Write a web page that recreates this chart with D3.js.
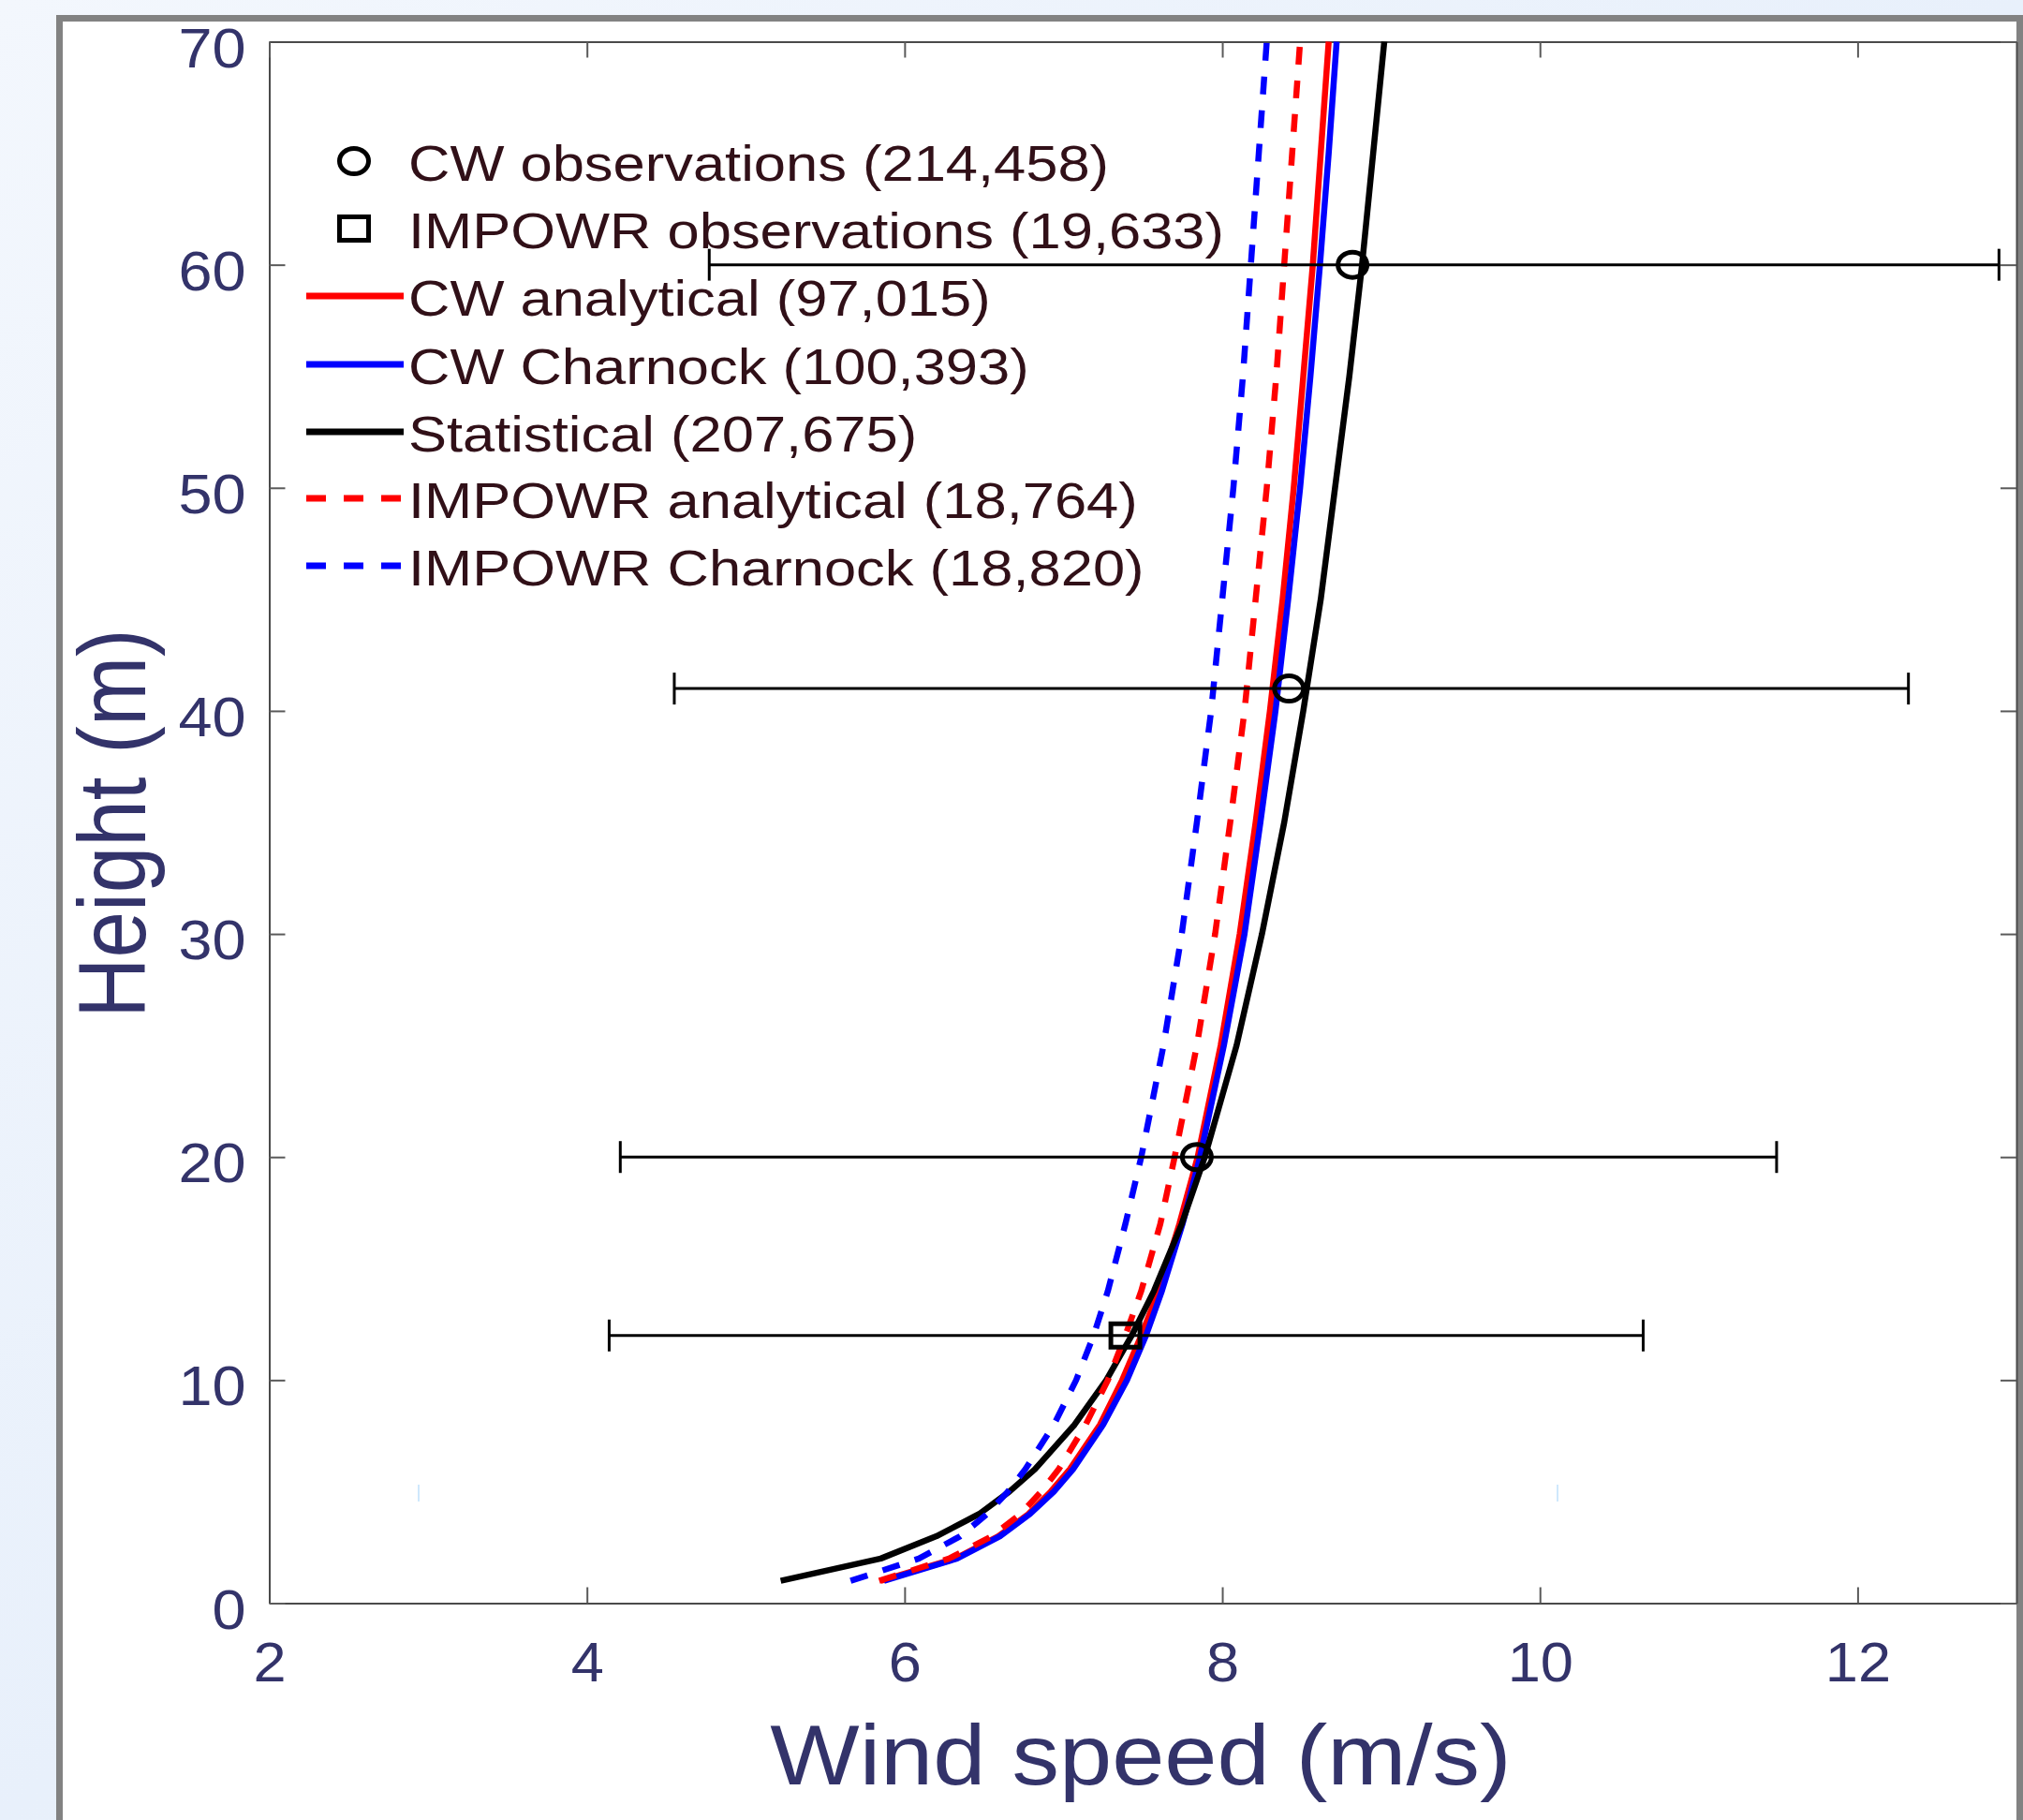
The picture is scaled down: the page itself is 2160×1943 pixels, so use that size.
<!DOCTYPE html>
<html>
<head>
<meta charset="utf-8">
<script src="https://cdn.jsdelivr.net/npm/d3@7/dist/d3.min.js"></script>
<style>
  html, body { margin: 0; padding: 0; background: #fff; }
  svg { display: block; }
</style>
</head>
<body>
<div id="chart"></div>
<script>
// ---------------- DATA ----------------
const heights = [1, 2, 3, 4, 5, 6, 8, 10, 12, 14, 17, 20, 25, 30, 35, 40, 45, 50, 55, 60, 65, 70];

const cwAnalytical     = [5.85, 6.32, 6.59, 6.78, 6.92, 7.04, 7.23, 7.37, 7.49, 7.60, 7.73, 7.845, 7.99, 8.11, 8.21, 8.30, 8.38, 8.45, 8.51, 8.57, 8.62, 8.67];
const cwCharnock       = [5.87, 6.33, 6.60, 6.79, 6.94, 7.06, 7.25, 7.40, 7.52, 7.62, 7.75, 7.86, 8.01, 8.14, 8.24, 8.335, 8.415, 8.49, 8.555, 8.615, 8.67, 8.72];
const statistical      = [5.22, 5.85, 6.20, 6.47, 6.66, 6.82, 7.07, 7.27, 7.43, 7.57, 7.745, 7.89, 8.09, 8.25, 8.39, 8.51, 8.62, 8.71, 8.80, 8.88, 8.95, 9.02];
const impowrAnalytical = [5.84, 6.28, 6.55, 6.73, 6.86, 6.97, 7.14, 7.28, 7.39, 7.49, 7.61, 7.70, 7.84, 7.955, 8.05, 8.14, 8.21, 8.28, 8.34, 8.39, 8.44, 8.49];
const impowrCharnock   = [5.66, 6.09, 6.35, 6.52, 6.65, 6.76, 6.94, 7.08, 7.19, 7.28, 7.39, 7.49, 7.63, 7.745, 7.84, 7.93, 8.00, 8.07, 8.13, 8.18, 8.23, 8.28];

const cwObsHeights = [20, 41, 60];
const cwObsMean    = [7.84, 8.42, 8.82];
const cwObsLow     = [4.21, 4.55, 4.77];
const cwObsHigh    = [11.49, 12.32, 12.89];

const impObsHeights = [12];
const impObsMean    = [7.39];
const impObsLow     = [4.14];
const impObsHigh    = [10.65];

const xTicks = [2, 4, 6, 8, 10, 12];
const yTicks = [0, 10, 20, 30, 40, 50, 60, 70];

const legendLabels = [
  "CW observations (214,458)",
  "IMPOWR observations (19,633)",
  "CW analytical (97,015)",
  "CW Charnock (100,393)",
  "Statistical (207,675)",
  "IMPOWR analytical (18,764)",
  "IMPOWR Charnock (18,820)"
];

const xLabel = "Wind speed (m/s)";
const yLabel = "Height (m)";

// ---------------- SETUP ----------------
const W = 2160, H = 1943;
const FONT = "'Liberation Sans', Arial, Helvetica, sans-serif";
const NAVY = "#33336a";
const LEG_TXT = "#311018";

const svg = d3.select("#chart").append("svg")
  .attr("width", W).attr("height", H)
  .attr("viewBox", `0 0 ${W} ${H}`);

const defs = svg.append("defs");
const grad = defs.append("linearGradient").attr("id", "bg")
  .attr("x1", "0").attr("y1", "0").attr("x2", "1").attr("y2", "1");
grad.append("stop").attr("offset", "0").attr("stop-color", "#f3f7fd");
grad.append("stop").attr("offset", "0.5").attr("stop-color", "#e8f0fb");
grad.append("stop").attr("offset", "1").attr("stop-color", "#eef4fc");

svg.append("rect").attr("width", W).attr("height", H).attr("fill", "url(#bg)");

// panel with gray frame
svg.append("rect")
  .attr("x", 63.5).attr("y", 19.5)
  .attr("width", 2093).attr("height", 2000)
  .attr("fill", "#ffffff")
  .attr("stroke", "#828282").attr("stroke-width", 7);

const x = d3.scaleLinear().domain([2, 13]).range([287.5, 2153]);
const y = d3.scaleLinear().domain([0, 70]).range([1711.5, 44.5]);

const TICK = 17;

// ---------------- AXES ----------------
const axisColor = "#4a4a4a";

function styleAxis(g) {
  g.select(".domain").attr("stroke", axisColor).attr("stroke-width", 2);
  g.selectAll(".tick line").attr("stroke", "#5a5a5a").attr("stroke-width", 2);
}

const gx = svg.append("g").attr("transform", `translate(0,${y(0)})`)
  .call(d3.axisBottom(x).tickValues(xTicks).tickSizeInner(-TICK).tickSizeOuter(0).tickFormat(d3.format("d")));
styleAxis(gx);
gx.selectAll(".tick text")
  .attr("y", null).attr("dy", null)
  .attr("transform", "translate(0,83.5) scale(1.07,1)")
  .attr("font-family", FONT).attr("font-size", 59)
  .attr("fill", NAVY).attr("text-anchor", "middle");

const gy = svg.append("g").attr("transform", `translate(${x(2)},0)`)
  .call(d3.axisLeft(y).tickValues(yTicks).tickSizeInner(-TICK).tickSizeOuter(0).tickFormat(d3.format("d")));
styleAxis(gy);
gy.selectAll(".tick text")
  .attr("x", null).attr("dy", null)
  .attr("transform", "translate(-25,26.5) scale(1.08,1)")
  .attr("font-family", FONT).attr("font-size", 60)
  .attr("fill", NAVY).attr("text-anchor", "end");

const gt = svg.append("g").attr("transform", `translate(0,${y(70)})`)
  .call(d3.axisTop(x).tickValues(xTicks).tickSizeInner(-TICK).tickSizeOuter(0).tickFormat(""));
styleAxis(gt);

const gr = svg.append("g").attr("transform", `translate(${x(13)},0)`)
  .call(d3.axisRight(y).tickValues(yTicks).tickSizeInner(-TICK).tickSizeOuter(0).tickFormat(""));
styleAxis(gr);

// faint light-blue specks seen in the reference
[[447, 1585, 1603], [1663, 1585, 1603]].forEach(([px, y1, y2]) => {
  svg.append("line").attr("x1", px).attr("x2", px).attr("y1", y1).attr("y2", y2)
    .attr("stroke", "#bfe1fb").attr("stroke-width", 1.5);
});

// ---------------- AXIS LABELS ----------------
svg.append("text")
  .attr("transform", `translate(1218,1905) scale(1.11,1)`)
  .attr("text-anchor", "middle")
  .attr("font-family", FONT).attr("font-size", 91)
  .attr("fill", NAVY)
  .text(xLabel);

svg.append("text")
  .attr("transform", `translate(155,879) scale(1.14,1) rotate(-90)`)
  .attr("text-anchor", "middle")
  .attr("font-family", FONT).attr("font-size", 89)
  .attr("fill", NAVY)
  .text(yLabel);

// ---------------- CURVES ----------------
const series = [
  { values: cwAnalytical,     color: "#ff0000", dash: null },
  { values: cwCharnock,       color: "#0000ff", dash: null },
  { values: statistical,      color: "#000000", dash: null },
  { values: impowrAnalytical, color: "#ff0000", dash: "19,17" },
  { values: impowrCharnock,   color: "#0000ff", dash: "19,17" }
];

const line = d3.line()
  .x(d => x(d[1]))
  .y(d => y(d[0]))
  .curve(d3.curveLinear);

const plot = svg.append("g");
series.forEach(s => {
  plot.append("path")
    .datum(heights.map((h, i) => [h, s.values[i]]))
    .attr("d", line)
    .attr("fill", "none")
    .attr("stroke", s.color)
    .attr("stroke-width", 6.5)
    .attr("stroke-dasharray", s.dash)
    .attr("stroke-linecap", "butt")
    .attr("stroke-linejoin", "round");
});

// ---------------- ERROR BARS + MARKERS ----------------
function errorBars(hs, lo, hi) {
  hs.forEach((h, i) => {
    const yy = y(h);
    plot.append("line").attr("x1", x(lo[i])).attr("x2", x(hi[i]))
      .attr("y1", yy).attr("y2", yy).attr("stroke", "#000").attr("stroke-width", 3);
    [lo[i], hi[i]].forEach(v => {
      plot.append("line").attr("x1", x(v)).attr("x2", x(v))
        .attr("y1", yy - 17).attr("y2", yy + 17)
        .attr("stroke", "#000").attr("stroke-width", 3);
    });
  });
}
errorBars(cwObsHeights, cwObsLow, cwObsHigh);
errorBars(impObsHeights, impObsLow, impObsHigh);

cwObsHeights.forEach((h, i) => {
  plot.append("ellipse").attr("cx", x(cwObsMean[i])).attr("cy", y(h))
    .attr("rx", 15.5).attr("ry", 13.5)
    .attr("fill", "none").attr("stroke", "#000").attr("stroke-width", 5);
});
impObsHeights.forEach((h, i) => {
  plot.append("rect").attr("x", x(impObsMean[i]) - 15.5).attr("y", y(h) - 12.5)
    .attr("width", 31).attr("height", 25)
    .attr("fill", "none").attr("stroke", "#000").attr("stroke-width", 5);
});

// ---------------- LEGEND ----------------
const legBase = [193, 265, 337, 410, 482, 553, 625];
const leg = svg.append("g");
legendLabels.forEach((lab, i) => {
  const b = legBase[i];
  const cy = b - 21;
  if (i === 0) {
    leg.append("ellipse").attr("cx", 378).attr("cy", cy).attr("rx", 15.5).attr("ry", 13.5)
      .attr("fill", "none").attr("stroke", "#000").attr("stroke-width", 5);
  } else if (i === 1) {
    leg.append("rect").attr("x", 378 - 15.5).attr("y", cy - 12.5).attr("width", 31).attr("height", 25)
      .attr("fill", "none").attr("stroke", "#000").attr("stroke-width", 5);
  } else {
    const s = series[i - 2];
    leg.append("line").attr("x1", 327).attr("x2", 431).attr("y1", cy).attr("y2", cy)
      .attr("stroke", s.color).attr("stroke-width", 7)
      .attr("stroke-dasharray", s.dash ? "21,19" : null);
  }
  leg.append("text")
    .attr("transform", `translate(436,${b}) scale(1.16,1)`)
    .attr("font-family", FONT).attr("font-size", 53)
    .attr("fill", LEG_TXT)
    .text(lab);
});
</script>
</body>
</html>
